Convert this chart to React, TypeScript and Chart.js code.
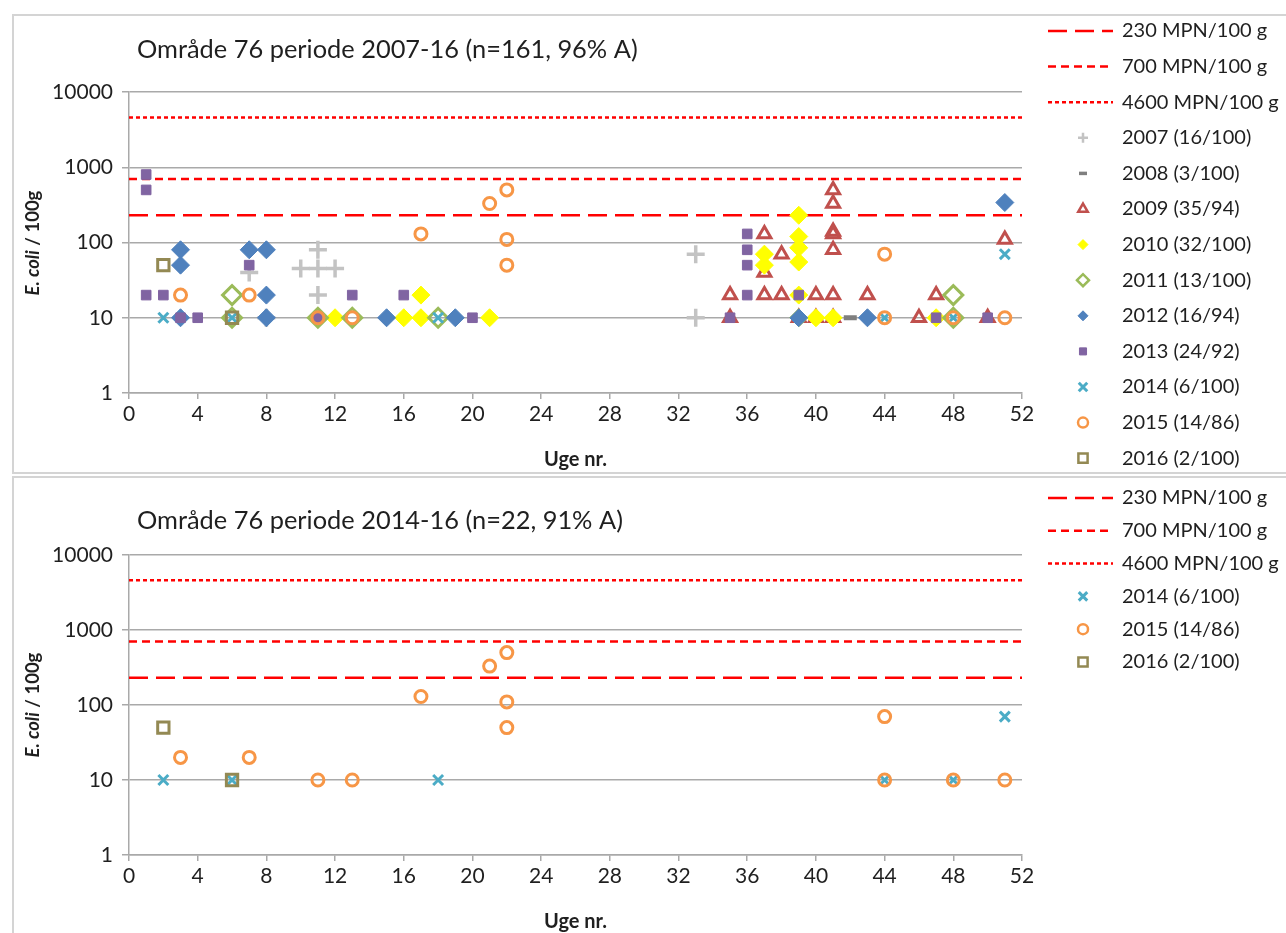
import React, { useEffect, useRef } from 'react';
import { Chart, registerables } from 'chart.js';
import { drawPoint } from 'chart.js/helpers';

Chart.register(...registerables);

// ---------- data ----------
const xTickValues = [0, 4, 8, 12, 16, 20, 24, 28, 32, 36, 40, 44, 48, 52];
const yTickValues = [1, 10, 100, 1000, 10000];

const limitValues = [230, 700, 4600];
const limitLabels = ['230 MPN/100 g', '700 MPN/100 g', '4600 MPN/100 g'];

const yearLabels = [
  '2007 (16/100)', '2008 (3/100)', '2009 (35/94)', '2010 (32/100)', '2011 (13/100)',
  '2012 (16/94)', '2013 (24/92)', '2014 (6/100)', '2015 (14/86)', '2016 (2/100)',
];

const weeks2007 = [7, 8, 10, 11, 11, 11, 11, 12, 33, 33];
const vals2007 = [40, 10, 45, 80, 45, 20, 10, 45, 70, 10];

const weeks2008 = [42, 43];
const vals2008 = [10, 10];

const weeks2009 = [35, 35, 37, 37, 37, 38, 38, 39, 40, 40, 41, 41, 41, 41, 41, 41, 41, 43, 46, 47, 50, 51];
const vals2009 = [20, 10, 130, 40, 20, 70, 20, 10, 20, 10, 500, 330, 140, 130, 80, 20, 10, 20, 10, 20, 10, 110];

const weeks2010 = [12, 16, 17, 17, 21, 37, 37, 39, 39, 39, 39, 39, 39, 40, 41, 47];
const vals2010 = [10, 10, 20, 10, 10, 70, 50, 230, 120, 85, 55, 20, 10, 10, 10, 10];

const weeks2011 = [6, 6, 11, 13, 18, 48, 48];
const vals2011 = [20, 10, 10, 10, 10, 20, 10];

const weeks2012 = [3, 3, 3, 7, 8, 8, 8, 15, 19, 39, 43, 51];
const vals2012 = [80, 50, 10, 80, 80, 20, 10, 10, 10, 10, 10, 340];

const weeks2013 = [1, 1, 1, 2, 3, 4, 7, 11, 13, 16, 20, 35, 36, 36, 36, 36, 39, 47, 50];
const vals2013 = [800, 500, 20, 20, 10, 10, 50, 10, 20, 20, 10, 10, 130, 80, 50, 20, 20, 10, 10];

const weeks2014 = [2, 6, 18, 44, 48, 51];
const vals2014 = [10, 10, 10, 10, 10, 70];

const weeks2015 = [3, 7, 11, 13, 17, 21, 22, 22, 22, 44, 44, 48, 51];
const vals2015 = [20, 20, 10, 10, 130, 330, 500, 110, 50, 70, 10, 10, 10];

const weeks2016 = [2, 6];
const vals2016 = [50, 10];

const yearWeeks = [weeks2007, weeks2008, weeks2009, weeks2010, weeks2011, weeks2012, weeks2013, weeks2014, weeks2015, weeks2016];
const yearVals = [vals2007, vals2008, vals2009, vals2010, vals2011, vals2012, vals2013, vals2014, vals2015, vals2016];

// ---------- styles ----------
const FONT = 'Lato, "Open Sans", sans-serif';
const TEXT = '#1f1f1f';
const GRID = '#a9a9a9';
const NONE = 'rgba(0,0,0,0)';

type MarkerStyle = {
  style: string; color: string; fill: string; radius: number; border: number;
  legendRadius: number; legendBorder: number;
};

const markerStyles: MarkerStyle[] = [
  { style: 'cross', color: '#c3c3c3', fill: NONE, radius: 9, border: 3.5, legendRadius: 5, legendBorder: 2.5 },
  { style: 'line', color: '#7f7f7f', fill: NONE, radius: 6.5, border: 5, legendRadius: 4, legendBorder: 3.5 },
  { style: 'triangle', color: '#c0504d', fill: NONE, radius: 7.5, border: 3, legendRadius: 5.5, legendBorder: 2.5 },
  { style: 'rectRot', color: '#ffff00', fill: '#ffff00', radius: 9, border: 1, legendRadius: 5, legendBorder: 1 },
  { style: 'rectRot', color: '#9bbb59', fill: NONE, radius: 9.5, border: 3, legendRadius: 6, legendBorder: 2.5 },
  { style: 'rectRot', color: '#4f81bd', fill: '#4f81bd', radius: 9, border: 1, legendRadius: 5, legendBorder: 1 },
  { style: 'rect', color: '#8064a2', fill: '#8064a2', radius: 6.8, border: 1, legendRadius: 5, legendBorder: 1 },
  { style: 'crossRot', color: '#4bacc6', fill: NONE, radius: 7, border: 3, legendRadius: 6, legendBorder: 3 },
  { style: 'circle', color: '#f79646', fill: NONE, radius: 6, border: 3, legendRadius: 5, legendBorder: 2.5 },
  { style: 'rect', color: '#938953', fill: NONE, radius: 8, border: 3, legendRadius: 6.5, legendBorder: 2.5 },
];

const limitDashes = [[19, 8], [8, 5], [4, 3]];
const LIMIT_COLOR = '#ff0000';

type Panel = {
  title: string;
  yearIdx: number[];
  height: number;
  top: number;
  bottom: number;
  titleY: number;
  xTitleY: number;
  yTitleY: number;
  legendY0: number;
  legendDy: number;
};

const PLOT_LEFT = 129;
const PLOT_RIGHT = 1022;
const WIDTH = 1286;

function buildDatasets(panel: Panel) {
  const ds: any[] = [];
  limitValues.forEach((v, i) => {
    ds.push({
      type: 'line',
      label: limitLabels[i],
      data: [{ x: 0, y: v }, { x: 52, y: v }],
      borderColor: LIMIT_COLOR,
      borderWidth: 2.5,
      borderDash: limitDashes[i],
      pointRadius: 0,
      fill: false,
      order: 1000,
      isLimit: true,
    });
  });
  panel.yearIdx.forEach((yi) => {
    const st = markerStyles[yi];
    ds.push({
      type: 'scatter',
      label: yearLabels[yi],
      data: yearWeeks[yi].map((w, k) => ({ x: w, y: yearVals[yi][k] })),
      pointStyle: st.style,
      pointRadius: st.radius,
      pointBorderWidth: st.border,
      pointBorderColor: st.color,
      pointBackgroundColor: st.fill,
      borderColor: st.color,
      backgroundColor: st.fill,
      showLine: false,
      order: 100 - yi,
      marker: st,
    });
  });
  return ds;
}

function decorPlugin(panel: Panel) {
  return {
    id: 'decor',
    afterDraw(chart: any) {
      const ctx: CanvasRenderingContext2D = chart.ctx;
      const ca = chart.chartArea;
      ctx.save();
      // title
      ctx.fillStyle = TEXT;
      ctx.textBaseline = 'middle';
      ctx.textAlign = 'left';
      ctx.font = `25.4px ${FONT}`;
      ctx.fillText(panel.title, 137, panel.titleY);
      // x title
      ctx.font = `bold 20px ${FONT}`;
      ctx.textAlign = 'center';
      ctx.fillText('Uge nr.', (ca.left + ca.right) / 2, panel.xTitleY);
      // y title
      ctx.save();
      ctx.translate(33, panel.yTitleY);
      ctx.rotate(-Math.PI / 2);
      ctx.textAlign = 'left';
      const p1 = 'E. coli';
      const p2 = ' / 100g';
      ctx.font = `italic bold 18.5px ${FONT}`;
      const w1 = ctx.measureText(p1).width;
      ctx.font = `bold 18.5px ${FONT}`;
      const w2 = ctx.measureText(p2).width;
      const sx = -(w1 + w2) / 2;
      ctx.font = `italic bold 18.5px ${FONT}`;
      ctx.fillText(p1, sx, 0);
      ctx.font = `bold 18.5px ${FONT}`;
      ctx.fillText(p2, sx + w1, 0);
      ctx.restore();
      // legend
      chart.data.datasets.forEach((ds: any, i: number) => {
        const y = panel.legendY0 + i * panel.legendDy;
        if (ds.isLimit) {
          ctx.save();
          ctx.strokeStyle = LIMIT_COLOR;
          ctx.lineWidth = 2.5;
          ctx.setLineDash(ds.borderDash);
          ctx.beginPath();
          ctx.moveTo(1048, y);
          ctx.lineTo(1113, y);
          ctx.stroke();
          ctx.restore();
        } else {
          const st: MarkerStyle = ds.marker;
          ctx.save();
          ctx.fillStyle = st.fill;
          ctx.strokeStyle = st.color;
          ctx.lineWidth = st.legendBorder;
          drawPoint(ctx, { pointStyle: st.style as any, radius: st.legendRadius, borderWidth: st.legendBorder, rotation: 0 }, 1083, y);
          ctx.restore();
        }
        ctx.fillStyle = TEXT;
        ctx.textAlign = 'left';
        ctx.textBaseline = 'middle';
        ctx.font = `${ds.isLimit ? 20 : 20}px ${FONT}`;
        ctx.fillText(ds.label, 1122, y);
      });
      ctx.restore();
    },
  };
}

function ChartPanel({ panel, top }: { panel: Panel; top: number }) {
  const ref = useRef<HTMLCanvasElement>(null);
  useEffect(() => {
    if (!ref.current) return;
    const chart = new Chart(ref.current, {
      type: 'scatter',
      data: { datasets: buildDatasets(panel) },
      options: {
        animation: false,
        responsive: false,
        maintainAspectRatio: false,
        devicePixelRatio: 1,
        layout: { padding: { left: 0, right: WIDTH - PLOT_RIGHT, top: panel.top, bottom: 0 } },
        plugins: { legend: { display: false }, tooltip: { enabled: false } },
        scales: {
          x: {
            type: 'linear',
            min: 0,
            max: 52,
            afterBuildTicks: (s: any) => { s.ticks = xTickValues.map((v) => ({ value: v })); },
            afterFit: (s: any) => { s.height = panel.height - panel.bottom; },
            ticks: { font: { family: FONT, size: 21 }, color: TEXT, padding: 3, autoSkip: false, maxRotation: 0 },
            grid: { display: true, drawOnChartArea: false, drawTicks: true, tickLength: 6, color: GRID, lineWidth: 1.5 },
            border: { display: true, color: GRID, width: 1.5 },
          },
          y: {
            type: 'logarithmic',
            min: 1,
            max: 10000,
            afterBuildTicks: (s: any) => { s.ticks = yTickValues.map((v) => ({ value: v, major: true })); },
            afterFit: (s: any) => { s.width = PLOT_LEFT; },
            ticks: { font: { family: FONT, size: 21 }, color: TEXT, padding: 9, callback: (v: any) => String(v) },
            grid: { color: GRID, lineWidth: 1.5, drawTicks: true, tickLength: 7 },
            border: { display: true, color: GRID, width: 1.5 },
          },
        },
      } as any,
      plugins: [decorPlugin(panel)],
    });
    return () => chart.destroy();
  }, [panel]);
  return (
    <canvas
      ref={ref}
      width={WIDTH}
      height={panel.height}
      style={{ position: 'absolute', left: 0, top, width: WIDTH, height: panel.height }}
    />
  );
}

const panelTop: Panel = {
  title: 'Område 76 periode 2007-16 (n=161, 96% A)',
  yearIdx: [0, 1, 2, 3, 4, 5, 6, 7, 8, 9],
  height: 474,
  top: 92,
  bottom: 393,
  titleY: 50,
  xTitleY: 460,
  yTitleY: 243,
  legendY0: 31,
  legendDy: 35.6,
};

const panelBottom: Panel = {
  title: 'Område 76 periode 2014-16 (n=22, 91% A)',
  yearIdx: [7, 8, 9],
  height: 457,
  top: 79,
  bottom: 379,
  titleY: 45,
  xTitleY: 446,
  yTitleY: 229,
  legendY0: 22,
  legendDy: 32.8,
};

export default function App() {
  return (
    <div style={{ position: 'absolute', left: 0, top: 0, width: WIDTH, height: 933, overflow: 'hidden', background: '#fff' }}>
      <div style={{ position: 'absolute', left: 12, top: 14, width: 1290, height: 456, border: '2px solid #d4d4d4' }} />
      <div style={{ position: 'absolute', left: 12, top: 476, width: 1290, height: 470, border: '2px solid #d4d4d4' }} />
      <ChartPanel panel={panelTop} top={0} />
      <ChartPanel panel={panelBottom} top={476} />
    </div>
  );
}
